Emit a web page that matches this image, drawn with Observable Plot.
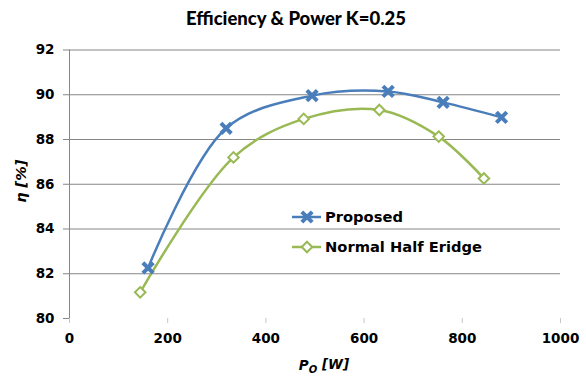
<!DOCTYPE html>
<html>
<head>
<meta charset="utf-8">
<script src="https://cdn.jsdelivr.net/npm/d3@7"></script>
<script src="https://cdn.jsdelivr.net/npm/@observablehq/plot@0.6"></script>
<style>
  body { margin: 0; background: #fff; }
  #chart { position: relative; width: 586px; height: 378px; }
</style>
</head>
<body>
<div id="chart"></div>
<script>
const seriesNames = ["Proposed", "Normal Half Eridge"];
const proposedPower = [160, 319, 494, 649, 761, 880];
const proposedEff   = [82.26, 88.5, 89.96, 90.15, 89.66, 88.99];
const normalPower   = [144, 334, 477, 631, 752, 844];
const normalEff     = [81.17, 87.2, 88.92, 89.32, 88.13, 86.26];
const xTicks = [0, 200, 400, 600, 800, 1000];
const yTicks = [80, 82, 84, 86, 88, 90, 92];
const titleText = "Efficiency & Power K=0.25";
const yLabel = "η [%]";

const blue = "#4a7ebb", green = "#98b954";
const proposed = proposedPower.map((x, i) => ({x, y: proposedEff[i]}));
const normal = normalPower.map((x, i) => ({x, y: normalEff[i]}));

const fontB = "'DejaVu Sans', sans-serif";

// square rhombus symbol (equal diagonals), like Excel's diamond marker
const rhombus = {
  draw(context, size) {
    const h = Math.sqrt(size / 2);
    context.moveTo(0, -h);
    context.lineTo(h, 0);
    context.lineTo(0, h);
    context.lineTo(-h, 0);
    context.closePath();
  }
};

const svg = Plot.plot({
  width: 586, height: 378,
  marginLeft: 69, marginRight: 26, marginTop: 49.5, marginBottom: 60,
  style: {fontFamily: fontB, background: "#fff", overflow: "visible"},
  x: {domain: [0, 1000]},
  y: {domain: [80, 92]},
  marks: [
    Plot.ruleY(yTicks.slice(1), {stroke: "#868686", strokeWidth: 1}),
    Plot.ruleX([0], {y1: 80, y2: 92, stroke: "#868686", strokeWidth: 1}),
    Plot.axisY({ticks: yTicks, tickSize: 6, tickPadding: 9, stroke: "#868686", label: null,
      fontSize: 13.5, fontWeight: "bold", fill: "#000", tickFormat: d => String(d)}),
    Plot.axisX({ticks: xTicks, tickSize: 5, tickPadding: 10, stroke: "#c8c8c8", label: null,
      fontSize: 13.5, fontWeight: "bold", fill: "#000", tickFormat: d => String(d)}),
    Plot.line(proposed, {x: "x", y: "y", curve: "catmull-rom", stroke: blue, strokeWidth: 2.5}),
    Plot.line(normal, {x: "x", y: "y", curve: "catmull-rom", stroke: green, strokeWidth: 2.5}),
    Plot.dot(proposed, {x: "x", y: "y", symbol: "times", r: 4.8, stroke: blue, strokeWidth: 4}),
    Plot.dot(normal, {x: "x", y: "y", symbol: rhombus, r: 4.2, stroke: green, fill: "#fff", strokeWidth: 2}),
    Plot.text([titleText], {frameAnchor: "top", dx: -19, dy: -31, lineAnchor: "middle",
      fontFamily: "Lato, sans-serif", fontWeight: 900, fontSize: 18.5, fill: "#000"}),
    Plot.text([yLabel], {frameAnchor: "left", dx: -48, dy: -3, rotate: -90, textAnchor: "middle",
      fontStyle: "italic", fontWeight: "bold", fontSize: 14.5, fill: "#000"}),
    Plot.text(["PO [W]"], {frameAnchor: "bottom", dx: 9, dy: 47, lineAnchor: "middle", textAnchor: "middle",
      fontStyle: "italic", fontWeight: "bold", fontSize: 13.5, fill: "#000", className: "xlab"})
  ]
});

// subscript for the x label
d3.select(svg).selectAll(".xlab text").each(function() {
  const t = d3.select(this);
  t.text(null);
  t.append("tspan").text("P");
  t.append("tspan").attr("font-size", "10px").attr("dy", "0.3em").text("O");
  t.append("tspan").attr("dy", "-0.3em").text(" [W]");
});

// legend
const lg = d3.select(svg).append("g").attr("font-family", fontB).attr("font-weight", "bold")
  .attr("font-size", 14.7).attr("text-anchor", "start");
const rows = [
  {name: seriesNames[0], color: blue, sym: d3.symbolTimes, size: 72, sw: 4, fill: "none"},
  {name: seriesNames[1], color: green, sym: rhombus, size: 55, sw: 2, fill: "#fff"}
];
rows.forEach((r, i) => {
  const y = 217 + i * 30;
  const g = lg.append("g").attr("transform", `translate(0,${y})`);
  g.append("line").attr("x1", 292).attr("x2", 321).attr("y1", 0).attr("y2", 0)
    .attr("stroke", r.color).attr("stroke-width", 2.5);
  g.append("path").attr("d", d3.symbol(r.sym, r.size)()).attr("transform", "translate(307,0)")
    .attr("stroke", r.color).attr("stroke-width", r.sw).attr("fill", r.fill);
  g.append("text").attr("x", 325).attr("y", 0).attr("dy", "0.36em").attr("fill", "#000")
    .style("text-anchor", "start").text(r.name);
});

document.getElementById("chart").appendChild(svg);
</script>
</body>
</html>
